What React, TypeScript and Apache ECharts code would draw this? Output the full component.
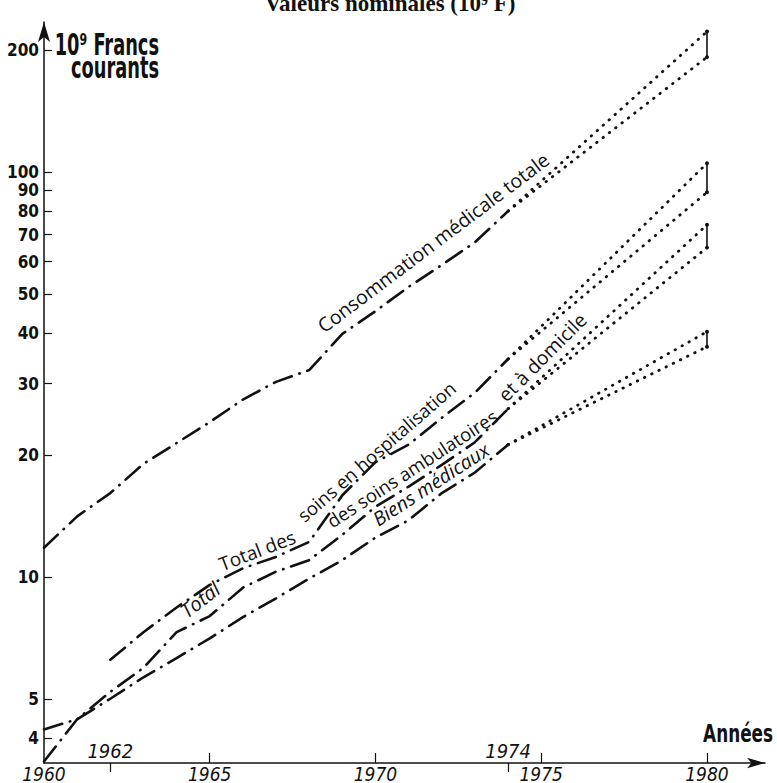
import React, { useEffect, useRef } from 'react';
import * as echarts from 'echarts';

// ---- data (10^9 francs courants) ----
const YEARS = [1960, 1961, 1962, 1963, 1964, 1965, 1966, 1967, 1968, 1969, 1970, 1971, 1972, 1973, 1974];
const CONSO = [11.8, 14.1, 16.1, 19.0, 21.4, 24.1, 27.4, 30.3, 32.4, 39.8, 45.3, 52, 58.9, 67, 80];
const HOSP = [null, null, 6.24, 7.3, 8.4, 9.55, 10.5, 11.2, 12.2, 15.9, 19.2, 21.2, 24.7, 28.5, 34.5];
const AMB = [3.5, 4.45, 5.2, 5.96, 7.3, 8.0, 9.4, 10.3, 11.0, 12.7, 14.9, 16.7, 18.9, 21.5, 26];
const BIENS = [4.2, 4.45, 5.0, 5.65, 6.3, 7.05, 7.95, 8.85, 9.9, 11.0, 12.5, 13.8, 16.1, 18.1, 21.2];
const PROJ_FROM = 1974;
const PROJ_TO = 1980;
const CONSO_1980 = [192, 222];
const HOSP_1980 = [89, 105];
const AMB_1980 = [65, 74];
const BIENS_1980 = [37, 40.3];
const Y_TICKS = [4, 5, 10, 20, 30, 40, 50, 60, 70, 80, 90, 100, 200];
const X_LABELS_BELOW = [1960, 1965, 1970, 1975, 1980];
const X_TICKS_UP = [1965, 1970, 1975, 1980];
const X_MARKS_ABOVE = [1962, 1974];

// label placement: data coordinates of the text baseline start, angle in degrees
const LABELS = [
  { text: 'Consommation médicale totale', at: [1968.45, 39.9], angle: 37, size: 19.5, italic: false },
  { text: 'Total des', at: [1965.37, 10.33], angle: 21, size: 19, italic: false },
  { text: 'soins en hospitalisation', at: [1967.85, 13.6], angle: 41, size: 18.5, italic: false },
  { text: 'Total', at: [1964.31, 7.87], angle: 38, size: 20, italic: true },
  { text: 'des soins ambulatoires', at: [1968.69, 13.2], angle: 33, size: 18.5, italic: false },
  { text: 'et à domicile', at: [1973.94, 26.9], angle: 45, size: 19.5, italic: false },
  { text: 'Biens médicaux', at: [1970.08, 13.3], angle: 33, size: 19.5, italic: true },
];

const INK = '#111';
const L = (v: number) => Math.log10(v);
const COND = '"DejaVu Sans Condensed", "DejaVu Sans", sans-serif';

function histSeries(vals: (number | null)[]) {
  const data = YEARS.map((y, i) => (vals[i] == null ? null : [y, L(vals[i] as number)])).filter(Boolean);
  return {
    type: 'line', data, showSymbol: false, symbol: 'none', silent: true,
    lineStyle: { color: INK, width: 2.6, type: [19, 8, 0.5, 8], cap: 'round' },
  };
}
function projSeries(vals: (number | null)[], end: number) {
  const last = vals[vals.length - 1] as number;
  return {
    type: 'line', data: [[PROJ_FROM, L(last)], [PROJ_TO, L(end)]], showSymbol: false, symbol: 'none', silent: true,
    lineStyle: { color: INK, width: 2.8, type: [0.5, 7.5], cap: 'round' },
  };
}
function bracketSeries(range: number[]) {
  return {
    type: 'line', data: [[PROJ_TO, L(range[0])], [PROJ_TO, L(range[1])]], symbol: 'circle', symbolSize: 4, showSymbol: true, silent: true,
    itemStyle: { color: INK }, lineStyle: { color: INK, width: 1.6, type: 'solid' },
  };
}

export default function App() {
  const ref = useRef<HTMLDivElement>(null);
  useEffect(() => {
    document.body.style.margin = '0';
    const chart = echarts.init(ref.current!, null, { renderer: 'svg' });
    const series: any[] = [];
    const groups: [(number | null)[], number[]][] = [[CONSO, CONSO_1980], [HOSP, HOSP_1980], [AMB, AMB_1980], [BIENS, BIENS_1980]];
    groups.forEach(([vals, rng]) => {
      series.push(histSeries(vals));
      series.push(projSeries(vals, rng[0]));
      series.push(projSeries(vals, rng[1]));
      series.push(bracketSeries(rng));
    });
    const yMin = L(3.47), yMax = 2.37;
    chart.setOption({
      animation: false,
      grid: { left: 44, right: 12, top: 22, bottom: 20, containLabel: false },
      xAxis: [
        {
          type: 'value', min: 1960, max: 1981.75, position: 'bottom',
          axisLine: { show: true, onZero: false, symbol: ['none', 'arrow'], symbolSize: [8, 18], lineStyle: { color: INK, width: 1.5 } },
          axisTick: { show: true, inside: true, length: 10, customValues: X_TICKS_UP, lineStyle: { color: INK, width: 1.2 } },
          axisLabel: { customValues: X_LABELS_BELOW, margin: 1, color: INK, fontSize: 19, fontStyle: 'italic', fontFamily: COND, formatter: (v: number) => String(v) },
          splitLine: { show: false },
        },
        {
          type: 'value', min: 1960, max: 1981.75, position: 'bottom',
          axisLine: { show: false, onZero: false },
          axisTick: { show: true, inside: false, length: 9, customValues: X_MARKS_ABOVE, lineStyle: { color: INK, width: 1.2 } },
          axisLabel: { inside: true, customValues: X_MARKS_ABOVE, margin: 2, color: INK, fontSize: 20, fontStyle: 'italic', fontFamily: COND, formatter: (v: number) => String(v) },
          splitLine: { show: false },
        },
      ],
      yAxis: {
        type: 'value', min: yMin, max: yMax,
        axisLine: { show: true, onZero: false, symbol: ['none', 'arrow'], symbolSize: [9, 20], lineStyle: { color: INK, width: 1.5 } },
        axisTick: { show: true, inside: true, length: 8, customValues: Y_TICKS.map(L), lineStyle: { color: INK, width: 1.2 } },
        axisLabel: {
          customValues: Y_TICKS.map(L), margin: 5, color: INK, fontSize: 17, fontWeight: 'bold', fontFamily: COND,
          formatter: (v: number) => String(Math.round(Math.pow(10, v))),
        },
        splitLine: { show: false },
      },
      series,
    });

    const labelGraphics = LABELS.map((l) => {
      const p = chart.convertToPixel({ seriesIndex: 0 }, [l.at[0], L(l.at[1])]) as number[];
      const th = (l.angle * Math.PI) / 180;
      const d = 0.15 * l.size; // move box bottom below the baseline point
      return {
        type: 'text', silent: true,
        x: p[0] + d * Math.sin(th), y: p[1] + d * Math.cos(th), rotation: th,
        style: {
          text: l.text, fill: INK,
          font: `${l.italic ? 'italic ' : ''}${l.size}px "Open Sans", sans-serif`,
          textAlign: 'left', textVerticalAlign: 'bottom', align: 'left', verticalAlign: 'bottom',
        },
      };
    });

    chart.setOption({
      graphic: [
        {
          type: 'text', silent: true, x: 390, y: 15,
          style: { text: 'Valeurs nominales (10⁹ F)', fill: INK, font: 'bold 23px "Liberation Serif", serif', textAlign: 'center', textVerticalAlign: 'bottom', align: 'center', verticalAlign: 'bottom' },
        },
        {
          type: 'text', silent: true, x: 159, y: 59, scaleX: 0.66,
          style: { text: '10⁹ Francs', fill: INK, font: `bold 30px ${COND}`, textAlign: 'right', textVerticalAlign: 'bottom', align: 'right', verticalAlign: 'bottom' },
        },
        {
          type: 'text', silent: true, x: 159, y: 82, scaleX: 0.66,
          style: { text: 'courants', fill: INK, font: `bold 30px ${COND}`, textAlign: 'right', textVerticalAlign: 'bottom', align: 'right', verticalAlign: 'bottom' },
        },
        {
          type: 'text', silent: true, x: 773, y: 746, scaleX: 0.78,
          style: { text: 'Années', fill: INK, font: `bold 24px ${COND}`, textAlign: 'right', textVerticalAlign: 'bottom', align: 'right', verticalAlign: 'bottom' },
        },
        ...labelGraphics,
      ],
    });
    return () => chart.dispose();
  }, []);
  return <div ref={ref} style={{ width: 777, height: 783 }} />;
}
